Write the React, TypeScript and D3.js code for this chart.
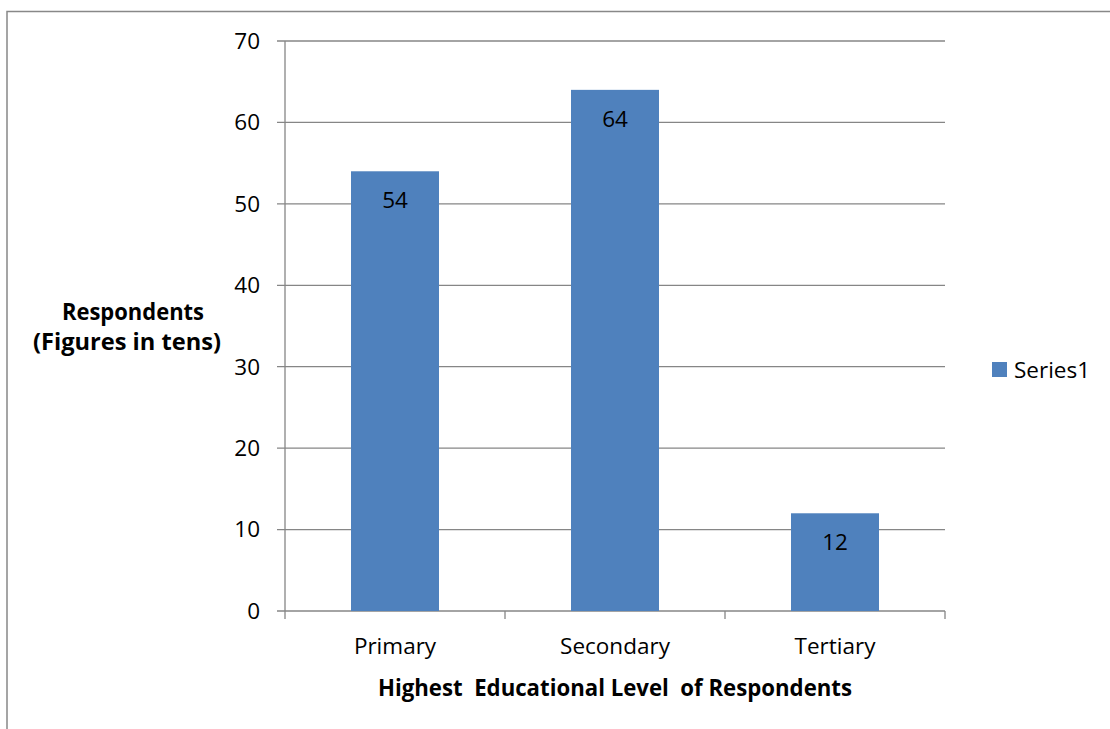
import React from "react";
import * as d3 from "d3";

const categories = ["Primary", "Secondary", "Tertiary"];
const values = [54, 64, 12];
const yTicks = [0, 10, 20, 30, 40, 50, 60, 70];
const seriesName = "Series1";
const xTitle = "Highest  Educational Level  of Respondents";
const yTitleLines = ["Respondents", "(Figures in tens)"];

const W = 1110;
const H = 729;
const left = 285;
const right = 945;
const top = 41;
const bottom = 611;
const FONT = "'Open Sans', sans-serif";
const FS = 22.5;
const BAR = "#4f81bd";
const GRID = "#868686";

export default function App() {
  const x = d3.scaleBand<string>().domain(categories).range([left, right]).paddingInner(0.6).paddingOuter(0.3);
  const xb = d3.scaleBand<string>().domain(categories).range([left, right]);
  const y = d3.scaleLinear().domain([0, 70]).range([bottom, top]);
  const yTitleX = [133, 127];
  const yTitleLen = [142, 188];

  return (
    <svg width={W} height={H} style={{ position: "absolute", left: 0, top: 0, background: "#fff" }}>
      <rect x={7} y={11.5} width={W + 10} height={H + 10} fill="#fff" stroke="#888" strokeWidth={1.5} />
      {yTicks.map((t) => (
        <g key={t}>
          <line x1={277} x2={right} y1={y(t)} y2={y(t)} stroke={GRID} strokeWidth={1.3} />
          <text x={260} y={y(t)} dy="0.35em" textAnchor="end" fontSize={FS} fontFamily={FONT} fill="#000">
            {t}
          </text>
        </g>
      ))}
      <line x1={left} x2={left} y1={top} y2={bottom} stroke={GRID} strokeWidth={1.3} />
      {categories.map((c) => (
        <line key={c} x1={xb(c)!} x2={xb(c)!} y1={bottom} y2={bottom + 8} stroke={GRID} strokeWidth={1.3} />
      ))}
      <line x1={right} x2={right} y1={bottom} y2={bottom + 8} stroke={GRID} strokeWidth={1.3} />
      {categories.map((c, i) => (
        <g key={c}>
          <rect x={x(c)!} y={y(values[i])} width={x.bandwidth()} height={bottom - y(values[i])} fill={BAR} />
          <text x={x(c)! + x.bandwidth() / 2} y={y(values[i]) + 29} dy="0.35em" textAnchor="middle" fontSize={FS} fontFamily={FONT} fill="#000">
            {values[i]}
          </text>
          <text x={xb(c)! + xb.bandwidth() / 2} y={646} dy="0.35em" textAnchor="middle" fontSize={FS} fontFamily={FONT} fill="#000">
            {c}
          </text>
        </g>
      ))}
      <text x={615} y={688} dy="0.35em" textAnchor="middle" fontSize={FS} fontWeight="bold" fontFamily={FONT} fill="#000" textLength={474} lengthAdjust="spacingAndGlyphs" style={{ whiteSpace: "pre" }}>
        {xTitle}
      </text>
      {yTitleLines.map((l, i) => (
        <text key={l} x={yTitleX[i]} y={312 + i * 30} dy="0.35em" textAnchor="middle" fontSize={FS} fontWeight="bold" fontFamily={FONT} fill="#000" textLength={yTitleLen[i]} lengthAdjust="spacingAndGlyphs">
          {l}
        </text>
      ))}
      <rect x={992} y={362} width={15} height={15} fill={BAR} />
      <text x={1014} y={370} dy="0.35em" fontSize={FS} fontFamily={FONT} fill="#000">
        {seriesName}
      </text>
    </svg>
  );
}
